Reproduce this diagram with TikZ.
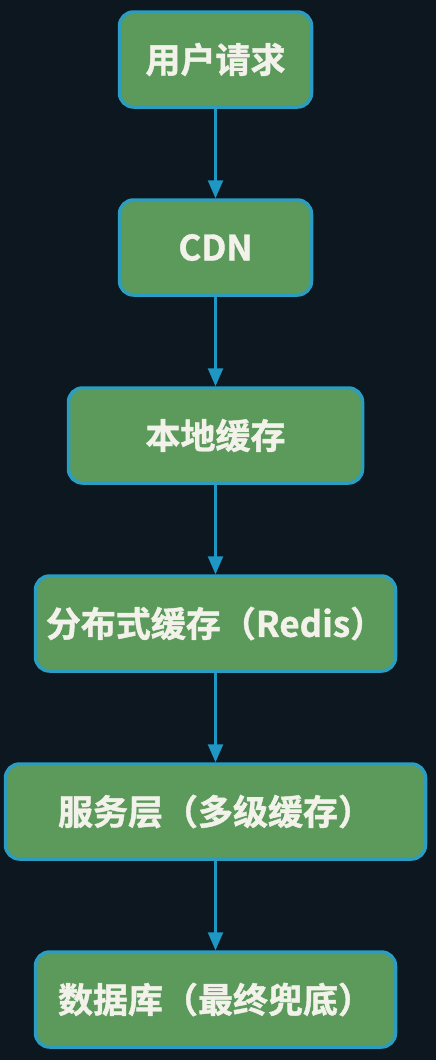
\documentclass[tikz,border=0pt]{standalone}
\usepackage{fontspec}
\newfontfamily\cjk[FakeBold=1.2]{Noto Sans CJK SC Bold}
\usetikzlibrary{arrows.meta}
\definecolor{bgc}{HTML}{0D1720}
\definecolor{boxfill}{HTML}{5B9A5B}
\definecolor{boxline}{HTML}{2A9DC0}
\definecolor{arrowc}{HTML}{1F97C4}
\definecolor{txt}{HTML}{F2F2EA}
\begin{document}
\begin{tikzpicture}[x=1pt,y=-1pt,
  stage/.style={draw=boxline, line width=3.5pt, fill=boxfill, rounded corners=14pt,
    text=txt, font=\cjk\fontsize{35}{40}\selectfont, inner sep=0pt, anchor=center},
  flow/.style={draw=arrowc, line width=2.6pt, -{Triangle[length=18pt,width=15pt]}}]
\fill[bgc] (0,0) rectangle (436,1060);
\useasboundingbox (0,0) rectangle (436,1060);
\node[stage, minimum width=192pt, minimum height=95pt] (a) at (215.5,59.5) {用户请求};
\node[stage, minimum width=192pt, minimum height=95pt] (b) at (215.5,247.5) {CDN};
\node[stage, minimum width=294pt, minimum height=95pt] (c) at (215.5,435.5) {本地缓存};
\node[stage, minimum width=360pt, minimum height=95pt] (d) at (215.5,623.5) {分布式缓存（Redis）};
\node[stage, minimum width=420pt, minimum height=95pt] (e) at (215.5,811.5) {服务层（多级缓存）};
\node[stage, minimum width=360pt, minimum height=95pt] (f) at (215.5,999.5) {数据库（最终兜底）};
\draw[flow] (a.south) -- (b.north);
\draw[flow] (b.south) -- (c.north);
\draw[flow] (c.south) -- (d.north);
\draw[flow] (d.south) -- (e.north);
\draw[flow] (e.south) -- (f.north);
\end{tikzpicture}
\end{document}
